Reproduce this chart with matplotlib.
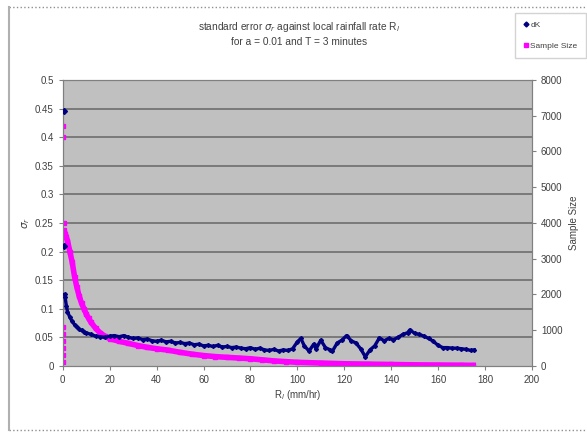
"""Standard error of the rainfall-rate estimate against local rain rate,
with the number of samples per rate bin on a secondary axis."""
import matplotlib
matplotlib.use("Agg")
import matplotlib.pyplot as plt
from matplotlib.lines import Line2D

plt.rcParams["font.family"] = ["Liberation Sans", "DejaVu Sans"]

# sigma_K series (left axis); the two lowest bins are isolated points
r_sigma0 = [0.3, 0.5]
sigma0 = [0.445, 0.21]
r_sigma = [0.8, 1.0, 1.5, 2, 3, 4, 5, 6, 7, 8, 9, 10, 12, 14, 16, 18,
           20, 22, 24, 26, 28, 30, 32, 34, 36, 38, 40, 42, 44, 46, 48, 50, 52,
           54, 56, 58, 60, 62, 64, 66, 68, 70, 72, 74, 76, 78, 80, 82, 84, 86,
           88, 90, 92, 94, 96, 98, 100, 101.5, 103, 105, 107, 108, 110, 112,
           114, 115, 117, 119, 121, 123, 125, 127, 129, 131, 133, 135, 137,
           139, 141, 143, 145, 147, 148, 150, 152, 154, 156, 158, 160, 162,
           164, 166, 168, 170, 172, 174, 175.5]
sigma = [0.125, 0.12, 0.105, 0.095, 0.085, 0.078, 0.072, 0.068,
         0.064, 0.062, 0.060, 0.058, 0.055, 0.052, 0.051, 0.050, 0.052, 0.053,
         0.051, 0.053, 0.050, 0.048, 0.049, 0.046, 0.047, 0.044, 0.043, 0.045,
         0.042, 0.043, 0.040, 0.041, 0.039, 0.040, 0.037, 0.038, 0.035, 0.036,
         0.034, 0.036, 0.033, 0.034, 0.032, 0.033, 0.031, 0.030, 0.032, 0.029,
         0.031, 0.028, 0.027, 0.029, 0.026, 0.028, 0.027, 0.030, 0.042, 0.048,
         0.035, 0.026, 0.038, 0.030, 0.045, 0.032, 0.028, 0.026, 0.040, 0.045,
         0.053, 0.044, 0.040, 0.030, 0.016, 0.028, 0.035, 0.049, 0.044, 0.048,
         0.046, 0.050, 0.055, 0.058, 0.063, 0.057, 0.055, 0.052, 0.048, 0.043,
         0.036, 0.032, 0.032, 0.031, 0.031, 0.030, 0.029, 0.027, 0.028]

# sample size per bin (right axis)
r_n = [1, 1.5, 2, 3, 4, 5, 6, 7, 8, 9, 10, 11, 12, 14, 16, 18, 20, 24, 28, 32,
       36, 40, 45, 50, 55, 60, 65, 70, 75, 80, 85, 90, 95, 100, 110, 120, 130,
       140, 150, 160, 170, 175]
n_samples = [3700, 3600, 3500, 3200, 2900, 2500, 2200, 1950, 1750, 1600, 1450,
             1330, 1220, 1050, 920, 830, 760, 690, 630, 570, 520, 480, 440, 380,
             330, 290, 260, 240, 220, 200, 170, 140, 120, 100, 80, 60, 50, 40,
             30, 25, 20, 15]
# lowest bin, spread of counts
r_n0 = [0.2, 0.2, 0.3, 0.3, 0.2, 0.2, 0.2, 0.2, 0.2, 0.2]
n_samples0 = [6700, 6400, 4000, 3800, 1100, 900, 700, 500, 300, 100]

NAVY = "#000080"
MAGENTA = "#FF00FF"
TXT = "#404040"

fig = plt.figure(figsize=(5.87, 4.32), dpi=100)
ax = fig.add_axes([0.107, 0.153, 0.799, 0.662])
ax2 = ax.twinx()

ax2.plot(r_n, n_samples, "-s", color=MAGENTA, lw=4, ms=3, zorder=2)
ax2.plot(r_n0, n_samples0, "s", color=MAGENTA, ms=3.5, zorder=2)
ax.plot(r_sigma, sigma, "-D", color=NAVY, lw=2.4, ms=2, zorder=3)
ax.plot(r_sigma0, sigma0, "D", color=NAVY, ms=3, zorder=3)
ax.set_zorder(ax2.get_zorder() + 1)
ax.patch.set_visible(False)
ax2.patch.set_visible(True)
ax2.patch.set_facecolor("#C0C0C0")

ax.set_xlim(0, 200)
ax.set_ylim(0, 0.5)
ax2.set_ylim(0, 8000)
ax.set_xticks(range(0, 201, 20))
yticks = [i * 0.05 for i in range(11)]
ax.set_yticks(yticks)
ax.set_yticklabels(["0", "0.05", "0.1", "0.15", "0.2", "0.25", "0.3", "0.35",
                    "0.4", "0.45", "0.5"])
ax2.set_yticks(range(0, 8001, 1000))
for a in (ax, ax2):
    a.tick_params(labelsize=7, colors="#808080", labelcolor=TXT, length=3,
                  width=0.8)
    for s in a.spines.values():
        s.set_color("#808080")
# major gridlines of the left axis, drawn on the secondary axes so they
# sit beneath both series (0.5 on the left == 8000 on the right)
for v in yticks[1:]:
    ax2.axhline(v * 16000, color="#6E6E6E", lw=1.2, zorder=0)

ax.set_xlabel(r"R$_l$ (mm/hr)", fontsize=7, color=TXT, labelpad=2)
ax.set_ylabel(r"$\sigma_r$", fontsize=7.5, color=TXT, labelpad=2)
ax2.set_ylabel("Sample Size", fontsize=7, color=TXT, labelpad=5)

fig.text(0.51, 0.93, r"standard error $\sigma_r$ against local rainfall rate R$_l$",
         ha="center", fontsize=7.3, color=TXT)
fig.text(0.51, 0.895, "for a = 0.01 and T = 3 minutes", ha="center",
         fontsize=7.3, color=TXT)

# legend box in the upper right corner
handles = [Line2D([], [], ls="", marker="D", color=NAVY, ms=2.5),
           Line2D([], [], ls="", marker="s", color=MAGENTA, ms=3)]
leg = fig.legend(handles, ["dK", "Sample Size"], loc="upper right",
                 bbox_to_anchor=(1.005, 0.98), fontsize=6, frameon=True,
                 fancybox=False, handlelength=0.6, handletextpad=0.2,
                 labelspacing=1.6, borderpad=1.0)
leg.get_frame().set_edgecolor("#C8C8C8")
for t in leg.get_texts():
    t.set_color(TXT)

# chart-area border
fig.add_artist(Line2D([0.015, 1.0], [0.984, 0.984], ls=":", color="#909090", lw=1))
fig.add_artist(Line2D([0.015, 1.0], [0.005, 0.005], ls=":", color="#909090", lw=1))
fig.add_artist(Line2D([0.016, 0.016], [0.005, 0.984], color="#B0B0B0", lw=1.5))

fig.savefig("out.png", dpi=100)
